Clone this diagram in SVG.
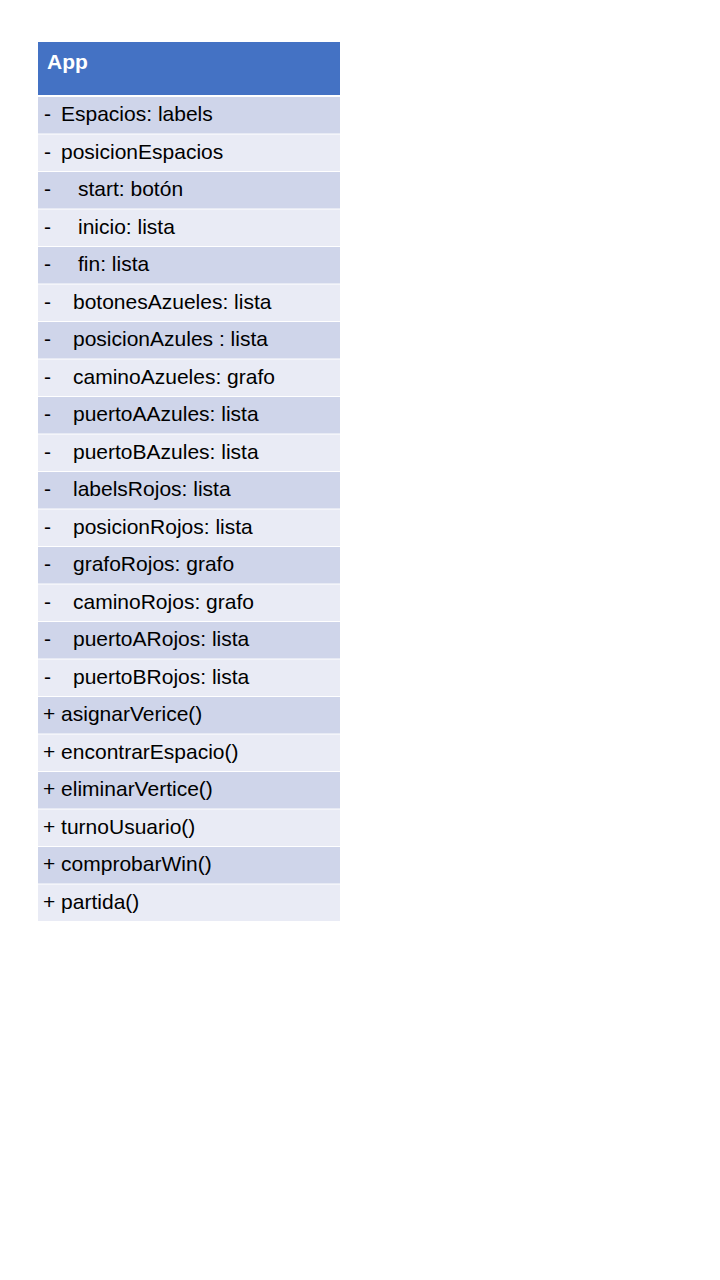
<svg xmlns="http://www.w3.org/2000/svg" width="720" height="1280" viewBox="0 0 720 1280">
<style>
.hdr{fill:#4472C4}
.d{fill:#CFD5EA}
.l{fill:#E9EBF5}
text{font-family:"Liberation Sans",Arial,sans-serif;font-size:21px;fill:#000}
.t{font-weight:bold;fill:#fff;font-size:21px}
</style>
<rect width="720" height="1280" fill="#fff"/>
<g id="App">
<rect class="hdr" x="38" y="42" width="302" height="53"/>
<text class="t" x="47" y="69">App</text>
<rect class="d" x="38" y="97" width="302" height="36.5"/>
<rect class="l" x="38" y="134.5" width="302" height="36.5"/>
<rect class="d" x="38" y="172" width="302" height="36.5"/>
<rect class="l" x="38" y="209.5" width="302" height="36.5"/>
<rect class="d" x="38" y="247" width="302" height="36.5"/>
<rect class="l" x="38" y="284.5" width="302" height="36.5"/>
<rect class="d" x="38" y="322" width="302" height="36.5"/>
<rect class="l" x="38" y="359.5" width="302" height="36.5"/>
<rect class="d" x="38" y="397" width="302" height="36.5"/>
<rect class="l" x="38" y="434.5" width="302" height="36.5"/>
<rect class="d" x="38" y="472" width="302" height="36.5"/>
<rect class="l" x="38" y="509.5" width="302" height="36.5"/>
<rect class="d" x="38" y="547" width="302" height="36.5"/>
<rect class="l" x="38" y="584.5" width="302" height="36.5"/>
<rect class="d" x="38" y="622" width="302" height="36.5"/>
<rect class="l" x="38" y="659.5" width="302" height="36.5"/>
<rect class="d" x="38" y="697" width="302" height="36.5"/>
<rect class="l" x="38" y="734.5" width="302" height="36.5"/>
<rect class="d" x="38" y="772" width="302" height="36.5"/>
<rect class="l" x="38" y="809.5" width="302" height="36.5"/>
<rect class="d" x="38" y="847" width="302" height="36.5"/>
<rect class="l" x="38" y="884.5" width="302" height="36.5"/>
<text x="44" y="121">-</text><text x="61" y="121">Espacios: labels</text>
<text x="44" y="158.5">-</text><text x="61" y="158.5">posicionEspacios</text>
<text x="44" y="196">-</text><text x="78" y="196">start: botón</text>
<text x="44" y="233.5">-</text><text x="78" y="233.5">inicio: lista</text>
<text x="44" y="271">-</text><text x="78" y="271">fin: lista</text>
<text x="44" y="308.5">-</text><text x="73" y="308.5">botonesAzueles: lista</text>
<text x="44" y="346">-</text><text x="73" y="346">posicionAzules : lista</text>
<text x="44" y="383.5">-</text><text x="73" y="383.5">caminoAzueles: grafo</text>
<text x="44" y="421">-</text><text x="73" y="421">puertoAAzules: lista</text>
<text x="44" y="458.5">-</text><text x="73" y="458.5">puertoBAzules: lista</text>
<text x="44" y="496">-</text><text x="73" y="496">labelsRojos: lista</text>
<text x="44" y="533.5">-</text><text x="73" y="533.5">posicionRojos: lista</text>
<text x="44" y="571">-</text><text x="73" y="571">grafoRojos: grafo</text>
<text x="44" y="608.5">-</text><text x="73" y="608.5">caminoRojos: grafo</text>
<text x="44" y="646">-</text><text x="73" y="646">puertoARojos: lista</text>
<text x="44" y="683.5">-</text><text x="73" y="683.5">puertoBRojos: lista</text>
<text x="43" y="721">+ asignarVerice()</text>
<text x="43" y="758.5">+ encontrarEspacio()</text>
<text x="43" y="796">+ eliminarVertice()</text>
<text x="43" y="833.5">+ turnoUsuario()</text>
<text x="43" y="871">+ comprobarWin()</text>
<text x="43" y="908.5">+ partida()</text>
</g>
</svg>
